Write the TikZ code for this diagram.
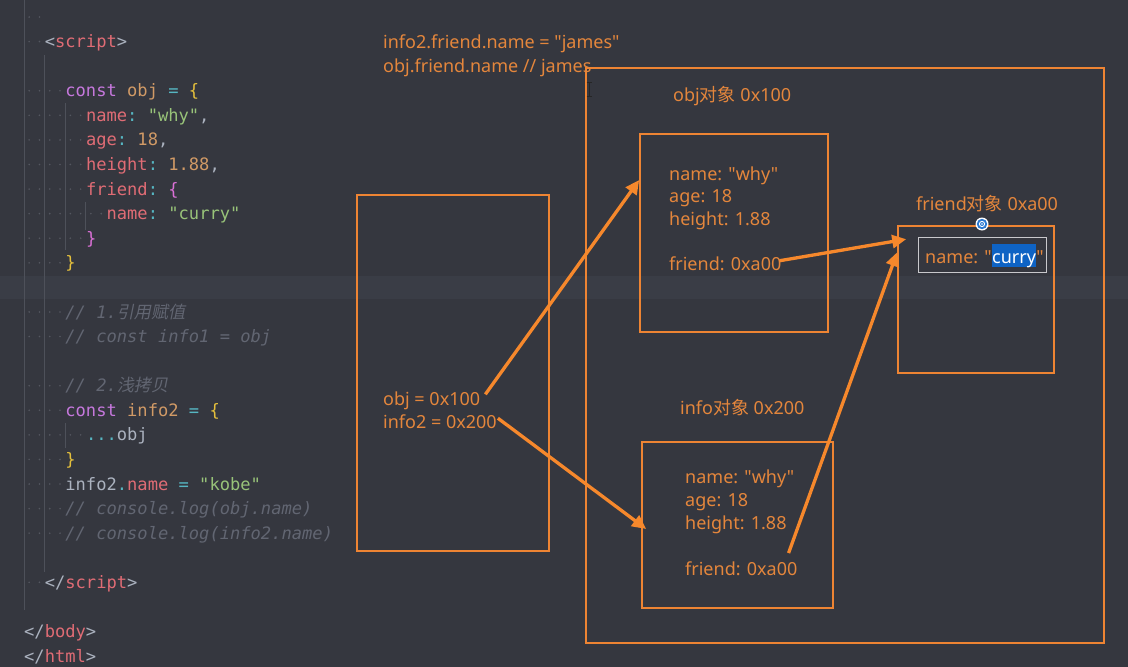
\documentclass[tikz,border=0pt]{standalone}
\usepackage{fontspec}
\setmainfont{Noto Sans}[Ligatures=TeXOff]
\setmonofont{DejaVu Sans Mono}
\newfontfamily\cjk{Noto Sans CJK SC}
\newfontfamily\cjkit{Noto Sans CJK SC}[FakeSlant=0.2]
\usetikzlibrary{arrows.meta,calc}
\definecolor{bg}{RGB}{53,55,63}
\definecolor{hl}{RGB}{58,61,70}
\definecolor{guide}{RGB}{78,81,90}
\definecolor{dotc}{RGB}{84,87,96}
\definecolor{txtorg}{RGB}{228,134,60}
\definecolor{boxorg}{RGB}{238,132,51}
\definecolor{arrorg}{RGB}{246,136,44}
\definecolor{kw}{RGB}{198,120,221}
\definecolor{var}{RGB}{209,154,102}
\definecolor{op}{RGB}{86,182,194}
\definecolor{brace}{RGB}{229,192,60}
\definecolor{bracetwo}{RGB}{218,112,214}
\definecolor{prop}{RGB}{224,108,117}
\definecolor{str}{RGB}{152,195,121}
\definecolor{num}{RGB}{209,154,102}
\definecolor{pun}{RGB}{171,178,191}
\definecolor{cmt}{RGB}{98,102,114}
\definecolor{selblue}{RGB}{14,99,196}
\definecolor{iconblue}{RGB}{40,120,210}
\newcommand\tok[2]{{\color{#1}#2}}
\tikzset{
  code/.style={anchor=base west, inner sep=0, text=pun, font=\fontsize{17.1}{20}\selectfont\ttfamily},
  cmtline/.style={code, text=cmt, font=\fontsize{17.1}{20}\selectfont\ttfamily\itshape},
  lbl/.style={anchor=base west, inner sep=0, text=txtorg, font=\fontsize{18}{23}\selectfont},
  box/.style={draw=boxorg, line width=1.6pt, inner sep=0, fill=none},
  ptr/.style={draw=arrorg, line width=3.3pt, -{Triangle[length=14pt,width=13pt]}},
  guideline/.style={draw=guide, line width=1pt}
}
\begin{document}
\begin{tikzpicture}[x=1pt,y=-1pt]
\useasboundingbox (0,0) rectangle (1128,667);
\fill[bg] (0,0) rectangle (1128,667);
\fill[hl] (0,276) rectangle (1128,299);
% indent guides
\draw[guideline] (24,0) -- (24,610);
\draw[guideline] (44.6,55) -- (44.6,572);
\draw[guideline] (65.2,103) -- (65.2,250);
\draw[guideline] (85.8,202) -- (85.8,230);
\draw[guideline] (65.2,423) -- (65.2,448);
% whitespace dots
\foreach \n/\k in {0/2,1/2,3/4,4/6,5/6,6/6,7/6,8/8,9/6,10/4,12/4,13/4,15/4,16/4,17/6,18/4,19/4,20/4,21/4,23/2}{
  \foreach \i in {1,...,\k}{
    \fill[dotc] ({24+(\i-0.5)*10.3},{17+24.58*\n}) circle (0.9);
  }
}
% code
\node[code] (l0) at (44.6,47.6) {\tok{pun}{<}\tok{prop}{script}\tok{pun}{>}};
\node[code] (l1) at (65.2,96.7) {\tok{kw}{const} \tok{var}{obj} \tok{op}{=} \tok{brace}{\{}};
\node[code] (l2) at (85.8,121.3) {\tok{prop}{name}\tok{op}{:} \tok{str}{"why"}\tok{pun}{,}};
\node[code] (l3) at (85.8,145.9) {\tok{prop}{age}\tok{op}{:} \tok{num}{18}\tok{pun}{,}};
\node[code] (l4) at (85.8,170.5) {\tok{prop}{height}\tok{op}{:} \tok{num}{1.88}\tok{pun}{,}};
\node[code] (l5) at (85.8,195.1) {\tok{prop}{friend}\tok{op}{:} \tok{bracetwo}{\{}};
\node[code] (l6) at (106.4,219.6) {\tok{prop}{name}\tok{op}{:} \tok{str}{"curry"}};
\node[code] (l7) at (85.8,244.2) {\tok{bracetwo}{\}}};
\node[code] (l8) at (65.2,268.8) {\tok{brace}{\}}};
\node[cmtline] (l9) at (65.2,318) {// 1.{\cjkit 引用赋值}};
\node[cmtline] (l10) at (65.2,342.5) {// const info1 = obj};
\node[cmtline] (l11) at (65.2,391.7) {// 2.{\cjkit 浅拷贝}};
\node[code] (l12) at (65.2,416.3) {\tok{kw}{const} \tok{var}{info2} \tok{op}{=} \tok{brace}{\{}};
\node[code] (l13) at (85.8,440.9) {\tok{op}{...}\tok{pun}{obj}};
\node[code] (l14) at (65.2,465.4) {\tok{brace}{\}}};
\node[code] (l15) at (65.2,490) {\tok{pun}{info2}\tok{op}{.}\tok{prop}{name} \tok{op}{=} \tok{str}{"kobe"}};
\node[cmtline] (l16) at (65.2,514.6) {// console.log(obj.name)};
\node[cmtline] (l17) at (65.2,539.2) {// console.log(info2.name)};
\node[code] (l18) at (44.6,588.3) {\tok{pun}{</}\tok{prop}{script}\tok{pun}{>}};
\node[code] (l19) at (24,637.5) {\tok{pun}{</}\tok{prop}{body}\tok{pun}{>}};
\node[code] (l20) at (24,662) {\tok{pun}{</}\tok{prop}{html}\tok{pun}{>}};
% boxes
\node[box, minimum width=192, minimum height=356] (stack) at (453,373) {};
\node[box, minimum width=518, minimum height=575] (heap) at (845,355.5) {};
\node[box, minimum width=188, minimum height=198] (objbox) at (734,233) {};
\node[box, minimum width=191, minimum height=166] (infobox) at (737.5,525) {};
\node[box, minimum width=156, minimum height=147] (fbox) at (976,299.5) {};
\node[draw={rgb,255:red,200;green,200;blue,204}, line width=1pt, inner sep=0, minimum width=128, minimum height=35] (namebox) at (982,254.5) {};
% texts
\node[lbl] (t1) at (383,48) {info2.friend.name = "james"};
\node[lbl] (t2) at (383,72) {obj.friend.name // james};
\node[lbl] (objt) at (673,101) {obj{\cjk 对象} 0x100};
\node[lbl] (inft) at (680,414) {info{\cjk 对象} 0x200};
\node[lbl] (frt) at (916,210) {friend{\cjk 对象} 0xa00};
\node[lbl] (objv) at (383,405) {obj = 0x100};
\node[lbl] (infv) at (383,428) {info2 = 0x200};
\node[lbl] (on) at (669,180) {name: "why"};
\node[lbl] (oa) at (669,202.5) {age: 18};
\node[lbl] (oh) at (669,225) {height: 1.88};
\node[lbl] (of) at (669,270.5) {friend: 0xa00};
\node[lbl] (in) at (685,483) {name: "why"};
\node[lbl] (ia) at (685,506) {age: 18};
\node[lbl] (ih) at (685,529) {height: 1.88};
\node[lbl] (if) at (685,575) {friend: 0xa00};
\node[lbl] (fn1) at (925,263) {name: "};
\node[lbl, fill=selblue, text=white, text height=19pt, text depth=4pt] (fn2) at (fn1.base east) {curry};
\node[lbl] (fn3) at (fn2.base east) {"};
% icon
\fill[white] (982,224) circle (6.5);
\fill[iconblue] (982,224) circle (5.2);
\draw[white, line width=0.9pt] (982,224) circle (2.6);
\fill[white] (982,224) circle (0.9);
% I-beam cursor
\draw[black!85, line width=1pt] (589,82) -- (589,96) (586.5,82) -- (591.5,82) (586.5,96) -- (591.5,96);
% arrows
\draw[ptr] ($(objv.east)+(5pt,6pt)$) -- (objbox.west |- on.base);
\draw[ptr] ($(infv.east)+(1pt,3pt)$) -- ($(infobox.west |- ih.base)+(5pt,0)$);
\draw[ptr] ($(of.east)+(-2pt,3pt)$) -- ($(fbox.north west)+(9pt,-14pt)$);
\draw[ptr] ($(if.north east)+(-9pt,8pt)$) -- ($(fbox.north west)+(0pt,-27pt)$);
\end{tikzpicture}
\end{document}
